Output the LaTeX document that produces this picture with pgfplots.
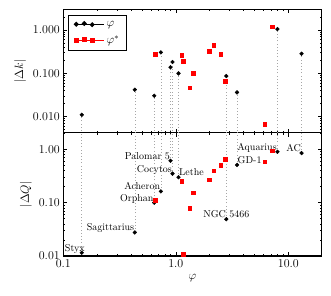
\documentclass[border=0pt]{standalone}
\usepackage{pgfplots}
\pgfplotsset{compat=1.18}
\begin{document}
\begin{tikzpicture}
\begin{axis}[scale only axis, width=258.4pt, height=123.3pt,
  xmode=log, ymode=log, xmin=0.1, xmax=19.8,
  at={(0pt,123.3pt)}, anchor=south west,
  axis line style={line width=1.2pt},
  tick style={black, line width=0.6pt},
  major tick length=4pt, minor tick length=2pt,
  tick align=inside, xtick pos=both, ytick pos=both,
  xtick={0.1,1,10},
  minor xtick={0.2,0.3,0.4,0.5,0.6,0.7,0.8,0.9,2,3,4,5,6,7,8,9,20},
  tick label style={font=\fontsize{12}{14}\selectfont},
  label style={font=\fontsize{13}{15}\selectfont},
  unbounded coords=jump,
  ymin=0.0042, ymax=3,
  ytick={0.01,0.1,1}, yticklabels={0.010,0.100,1.000},
  minor ytick={0.005,0.006,0.007,0.008,0.009,0.02,0.03,0.04,0.05,0.06,0.07,0.08,0.09,0.2,0.3,0.4,0.5,0.6,0.7,0.8,0.9,2,3},
  xticklabels={},
  ylabel={$|\Delta k|$},
  legend cell align=left,
  legend style={at={(0.019,0.951)}, anchor=north west, draw=black, line width=1pt,
    font=\fontsize{12}{14}\selectfont, inner xsep=5pt, inner ysep=3pt, row sep=4pt},
]
\addplot[gray!70, dash pattern=on 0.8pt off 2.4pt, line width=0.6pt, forget plot] coordinates {
(0.146,0.001) (0.146,0.0109) (0.146,nan)
(0.432,0.001) (0.432,0.0415) (0.432,nan)
(0.643,0.001) (0.643,0.0301) (0.643,nan)
(0.736,0.001) (0.736,0.304) (0.736,nan)
(0.897,0.001) (0.897,0.137) (0.897,nan)
(0.935,0.001) (0.935,0.182) (0.935,nan)
(1.057,0.001) (1.057,0.099) (1.057,nan)
(2.81,0.001) (2.81,0.086) (2.81,nan)
(3.50,0.001) (3.50,0.036) (3.50,nan)
(8.00,0.001) (8.00,1.05) (8.00,nan)
(13.1,0.001) (13.1,0.283)
};
\addplot[only marks, mark=*, mark size=1.9pt, black,
  legend image code/.code={\fill[black] (0pt,0pt) circle (1.9pt) (8pt,0.8pt) circle (1.9pt) (16pt,-0.4pt) circle (1.9pt);\path (-2pt,0pt) -- (28pt,0pt);}] coordinates {
(0.146,0.0109) (0.432,0.0415) (0.643,0.0301) (0.736,0.304) (0.897,0.137)
(0.935,0.182) (1.057,0.099) (2.81,0.086) (3.50,0.036) (8.00,1.05) (13.1,0.283)
};
\addlegendentry{$\varphi$}
\addplot[only marks, mark=square*, mark size=1.8pt, red,
  legend image code/.code={\fill[red] (-1.8pt,-1.8pt) rectangle ++(3.6pt,3.6pt) (6.2pt,-1pt) rectangle ++(3.6pt,3.6pt) (14.2pt,-2.2pt) rectangle ++(3.6pt,3.6pt);\path (-2pt,0pt) -- (28pt,0pt);}] coordinates {
(0.652,0.278) (1.13,0.26) (1.17,0.19) (1.325,0.046) (1.42,0.099)
(1.97,0.32) (2.18,0.45) (2.50,0.278) (2.75,0.065) (6.17,0.0067) (7.18,1.19)
};
\addlegendentry{$\varphi^{*}$}
\end{axis}
\begin{axis}[scale only axis, width=258.4pt, height=123.3pt,
  xmode=log, ymode=log, xmin=0.1, xmax=19.8,
  at={(0pt,0pt)}, anchor=south west,
  axis line style={line width=1.2pt},
  tick style={black, line width=0.6pt},
  major tick length=4pt, minor tick length=2pt,
  tick align=inside, xtick pos=both, ytick pos=both,
  xtick={0.1,1,10},
  minor xtick={0.2,0.3,0.4,0.5,0.6,0.7,0.8,0.9,2,3,4,5,6,7,8,9,20},
  tick label style={font=\fontsize{12}{14}\selectfont},
  label style={font=\fontsize{13}{15}\selectfont},
  unbounded coords=jump,
  ymin=0.01, ymax=2.05,
  ytick={0.01,0.1,1}, yticklabels={0.01,0.10,1.00},
  minor ytick={0.02,0.03,0.04,0.05,0.06,0.07,0.08,0.09,0.2,0.3,0.4,0.5,0.6,0.7,0.8,0.9,2},
  xticklabels={0.1,1.0,10.0},
  xlabel={$\varphi$}, ylabel={$|\Delta Q|$},
]
\addplot[gray!70, dash pattern=on 0.8pt off 2.4pt, line width=0.6pt] coordinates {
(0.146,0.0115) (0.146,10) (0.146,nan)
(0.432,0.0277) (0.432,10) (0.432,nan)
(0.643,0.100) (0.643,10) (0.643,nan)
(0.736,0.163) (0.736,10) (0.736,nan)
(0.897,0.61) (0.897,10) (0.897,nan)
(0.935,0.35) (0.935,10) (0.935,nan)
(1.057,0.30) (1.057,10) (1.057,nan)
(2.81,0.049) (2.81,10) (2.81,nan)
(3.50,0.51) (3.50,10) (3.50,nan)
(8.00,0.90) (8.00,10) (8.00,nan)
(13.1,0.85) (13.1,10)
};
\addplot[only marks, mark=*, mark size=1.9pt, black] coordinates {
(0.146,0.0115) (0.432,0.0277) (0.643,0.100) (0.736,0.163) (0.897,0.61)
(0.935,0.35) (1.057,0.30) (2.81,0.049) (3.50,0.51) (8.00,0.90) (13.1,0.85)
};
\addplot[only marks, mark=square*, mark size=1.8pt, red] coordinates {
(0.652,0.112) (1.13,0.25) (1.17,0.0107) (1.325,0.079) (1.42,0.153)
(1.97,0.27) (2.18,0.40) (2.50,0.51) (2.75,0.66) (6.17,0.59) (7.18,0.94)
};
\begin{scope}[every node/.style={font=\fontsize{10}{12}\selectfont, inner sep=0.5pt}]
\node[anchor=base east, xshift=3.6pt, yshift=1.5pt] at (axis cs:0.146,0.0115) {Styx};
\node[anchor=base east, yshift=1.5pt] at (axis cs:0.432,0.0277) {Sagittarius};
\node[anchor=base east, yshift=1.5pt] at (axis cs:0.643,0.100) {Orphan};
\node[anchor=base east, yshift=1.5pt] at (axis cs:0.736,0.163) {Acheron};
\node[anchor=base east, yshift=1.5pt] at (axis cs:0.897,0.61) {Palomar 5};
\node[anchor=base east, yshift=1.5pt] at (axis cs:0.935,0.35) {Cocytos};
\node[anchor=base west, yshift=1.5pt] at (axis cs:1.057,0.30) {Lethe};
\node[anchor=base, yshift=1.5pt] at (axis cs:2.81,0.049) {NGC 5466};
\node[anchor=base west, yshift=1.5pt] at (axis cs:3.50,0.51) {GD-1};
\node[anchor=base east, yshift=1.5pt] at (axis cs:8.00,0.90) {Aquarius};
\node[anchor=base east, yshift=1.5pt] at (axis cs:13.1,0.85) {AC};
\end{scope}
\end{axis}
\path (-63.3pt,-39pt) rectangle (267.7pt,256pt);
\end{tikzpicture}
\end{document}
